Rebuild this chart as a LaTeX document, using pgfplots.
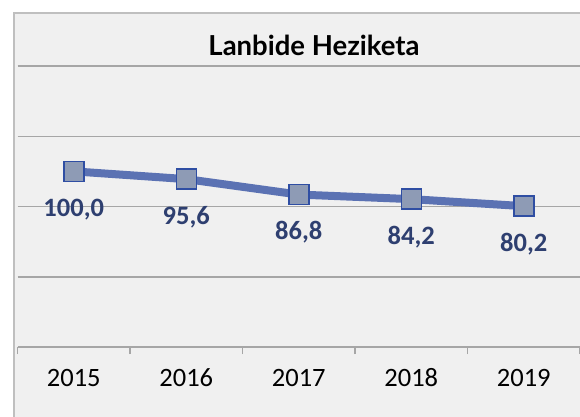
\documentclass[border=0pt]{standalone}
\usepackage{fontspec}
\setmainfont{Carlito}
\newfontfamily\titlefont{Lato}
\usepackage{pgfplots}
\pgfplotsset{compat=1.18}
\definecolor{bgc}{HTML}{F0F0F0}
\definecolor{framec}{HTML}{BFBFBF}
\definecolor{gridc}{HTML}{A6A6A6}
\definecolor{linec}{HTML}{5B72B3}
\definecolor{markfill}{HTML}{8E9BB5}
\definecolor{markdraw}{HTML}{2F4EA3}
\definecolor{labc}{HTML}{2E3F70}
\begin{document}
\begin{tikzpicture}[x=1bp,y=1bp]
\useasboundingbox (0,0) rectangle (580,416);
\clip (0,0) rectangle (580,416);
\fill[white] (0,0) rectangle (580,416);
\draw[framec, line width=2.5bp, fill=bgc] (14,-10) rectangle (620,403);
\node[font=\titlefont\bfseries\fontsize{27.5bp}{32bp}\selectfont] at (314,371) {Lanbide Heziketa};
\begin{axis}[
  at={(17.5bp,69bp)}, anchor=south west,
  scale only axis, width=562.5bp, height=281bp,
  xmin=-0.5, xmax=4.5, ymin=0, ymax=160,
  xtick={0,...,4}, xticklabels={2015,2016,2017,2018,2019},
  minor xtick={-0.5,0.5,...,4.5},
  ytick={40,80,120,160}, yticklabels={},
  ymajorgrids, grid style={gridc, line width=1.5bp},
  axis x line*=bottom, axis y line*=left,
  x axis line style={gridc, line width=1.5bp, -},
  y axis line style={draw=none},
  major x tick style={draw=none},
  minor x tick style={gridc, line width=1.5bp},
  ytick style={draw=none},
  tick align=outside,
  minor tick length=7bp,
  xticklabel style={font=\fontsize{26.5bp}{30bp}\selectfont, anchor=base, yshift=-35bp},
  clip=false,
]
\addplot[linec, line width=8bp, mark=square*, mark size=10bp,
  mark options={fill=markfill, draw=markdraw, line width=1.5bp},
  nodes near coords={\pgfmathprintnumber[fixed, fixed zerofill, precision=1, use comma, assume math mode=true]{\pgfplotspointmeta}},
  nodes near coords style={font=\bfseries\fontsize{26.5bp}{30bp}\selectfont, text=labc, anchor=base, yshift=-45bp}]
 coordinates {(0,100) (1,95.6) (2,86.8) (3,84.2) (4,80.2)};
\end{axis}
\end{tikzpicture}
\end{document}
